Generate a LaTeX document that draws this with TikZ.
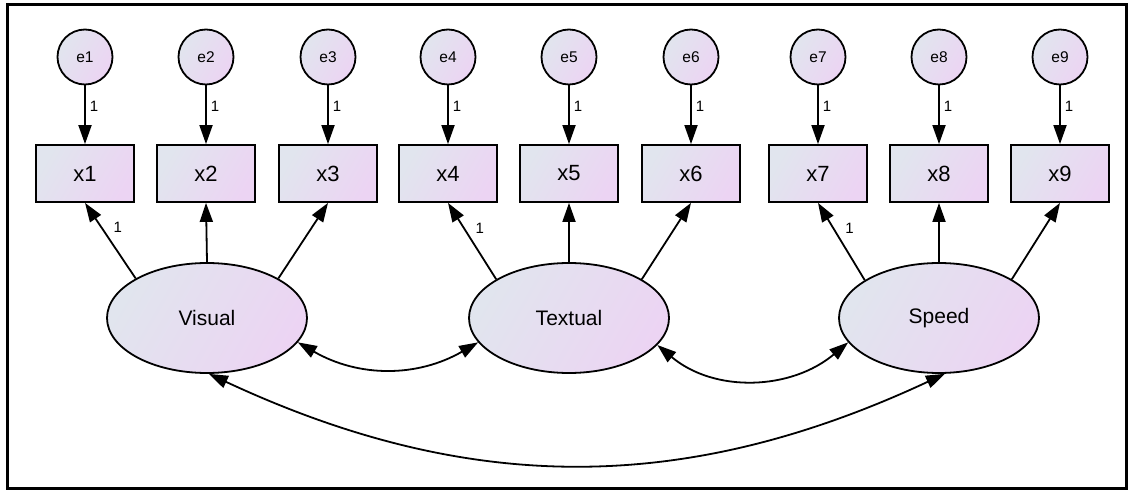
\documentclass[tikz,border=0pt]{standalone}
\usepackage{fontspec}
\setmainfont{Liberation Sans}
\usetikzlibrary{shapes.geometric,arrows.meta}
\definecolor{fillL}{RGB}{225,229,238}
\definecolor{fillR}{RGB}{236,212,243}
\tikzset{>={Triangle[length=19pt,width=13pt]}}
\tikzset{
  grad/.style={left color=fillL, right color=fillR, shading angle=60},
  obs/.style={draw, line width=1.8pt, grad,
    minimum width=98pt, minimum height=57pt, font=\fontsize{22}{22}\selectfont},
  err/.style={draw, circle, line width=1.8pt, grad,
    minimum size=55pt, inner sep=0pt, font=\fontsize{15.5}{15.5}\selectfont},
  lat/.style={draw, ellipse, line width=1.8pt, grad,
    minimum width=200pt, minimum height=110pt, inner sep=0pt, font=\fontsize{21}{21}\selectfont},
  lbl/.style={font=\fontsize{15}{15}\selectfont, inner sep=0pt},
  conn/.style={->, line width=1.8pt},
  cov/.style={<->, line width=1.8pt}
}

\begin{document}
\begin{tikzpicture}[x=1pt,y=1pt]
            \useasboundingbox (0,0) rectangle (1131,490);
            \draw[line width=3.3pt] (7.5,1.5) rectangle (1126.5,485.5);

            % error terms
            \node[err] (e1) at (85,433) {e1};
            \node[err] (e2) at (206,433) {e2};
            \node[err] (e3) at (328,433) {e3};
            \node[err] (e4) at (448,433) {e4};
            \node[err] (e5) at (569,433) {e5};
            \node[err] (e6) at (691,433) {e6};
            \node[err] (e7) at (818,433) {e7};
            \node[err] (e8) at (939,433) {e8};
            \node[err] (e9) at (1060,433) {e9};

            % observed variables
            \node[obs] (x1) at (85,316.5) {x1};
            \node[obs] (x2) at (206,316.5) {x2};
            \node[obs] (x3) at (328,316.5) {x3};
            \node[obs] (x4) at (448,316.5) {x4};
            \node[obs] (x5) at (569,316.5) {x5};
            \node[obs] (x6) at (691,316.5) {x6};
            \node[obs] (x7) at (818,316.5) {x7};
            \node[obs] (x8) at (939,316.5) {x8};
            \node[obs] (x9) at (1060,316.5) {x9};

            % latent factors
            \node[lat] (vis) at (207,172) {Visual};
            \node[lat] (txt) at (569,172) {Textual};
            \node[lat] (spd) at (939,172) {Speed};

            \draw[conn] (e1) -- node[lbl, pos=.35, xshift=9pt] {1} (x1);
            \draw[conn] (e2) -- node[lbl, pos=.35, xshift=9pt] {1} (x2);
            \draw[conn] (e3) -- node[lbl, pos=.35, xshift=9pt] {1} (x3);
            \draw[conn] (e4) -- node[lbl, pos=.35, xshift=9pt] {1} (x4);
            \draw[conn] (e5) -- node[lbl, pos=.35, xshift=9pt] {1} (x5);
            \draw[conn] (e6) -- node[lbl, pos=.35, xshift=9pt] {1} (x6);
            \draw[conn] (e7) -- node[lbl, pos=.35, xshift=9pt] {1} (x7);
            \draw[conn] (e8) -- node[lbl, pos=.35, xshift=9pt] {1} (x8);
            \draw[conn] (e9) -- node[lbl, pos=.35, xshift=9pt] {1} (x9);

            % loadings
            \draw[conn] (vis.151) -- node[lbl, pos=.67, xshift=16pt] {1} (x1.south);
            \draw[conn] (vis.north) -- (x2.south);
            \draw[conn] (vis.29) -- (x3.south);
            \draw[conn] (txt.152) -- node[lbl, pos=.67, xshift=16pt] {1} (x4.south);
            \draw[conn] (txt.north) -- (x5.south);
            \draw[conn] (txt.28) -- (x6.south);
            \draw[conn] (spd.153) -- node[lbl, pos=.67, xshift=16pt] {1} (x7.south);
            \draw[conn] (spd.north) -- (x8.south);
            \draw[conn] (spd.28) -- (x9.south);

            % covariances
            \draw[cov] (vis.-15) to[out=-30, in=-150] (txt.-165);
            \draw[cov] (txt.-17) to[out=-40, in=-140] (spd.-165);
            \draw[cov] (vis.-88) to[out=-25, in=-155] (spd.-84);
        \end{tikzpicture}
\end{document}
